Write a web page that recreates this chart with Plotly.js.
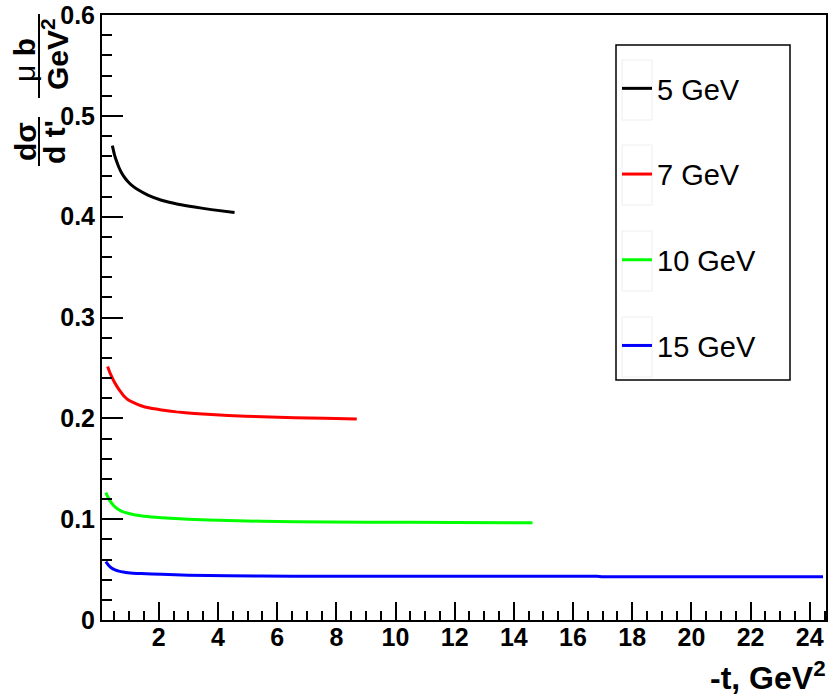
<!DOCTYPE html>
<html><head><meta charset="utf-8">
<script src="https://cdn.plot.ly/plotly-3.0.1.min.js"></script>
<style>html,body{margin:0;padding:0;background:#fff}#chart{width:832px;height:696px}</style>
</head><body><div id="chart"></div>
<script>
// Data
const seriesNames = ['5 GeV', '7 GeV', '10 GeV', '15 GeV'];

const x5  = [0.43, 0.5, 0.57, 0.65, 0.74, 0.85, 0.96, 1.1, 1.3, 1.63, 2.09, 2.65, 3.21, 3.78, 4.56];
const y5  = [0.4705, 0.4616, 0.4552, 0.4490, 0.4436, 0.4386, 0.4347, 0.4308, 0.4266, 0.4214, 0.4163, 0.4124, 0.4095, 0.4070, 0.4041];

const x7  = [0.27, 0.33, 0.4, 0.51, 0.6, 0.7, 0.82, 0.96, 1.15, 1.4, 1.7, 2.09, 2.6, 3.2, 4.34, 5.5, 6.59, 7.6, 8.69];
const y7  = [0.2513, 0.2465, 0.2418, 0.2352, 0.2310, 0.2268, 0.2222, 0.2185, 0.2155, 0.2125, 0.2102, 0.2083, 0.2064, 0.2048, 0.2027, 0.2015, 0.2007, 0.2000, 0.1994];

const x10 = [0.21, 0.28, 0.35, 0.43, 0.51, 0.6, 0.7, 0.82, 0.96, 1.2, 1.5, 2.09, 3.0, 4.34, 6.59, 9.0, 12.0, 14.63];
const y10 = [0.1263, 0.1218, 0.1182, 0.1150, 0.1124, 0.1103, 0.1085, 0.1070, 0.1058, 0.1042, 0.1030, 0.1015, 0.0999, 0.0986, 0.0974, 0.0970, 0.0967, 0.0965];

const x15 = [0.21, 0.3, 0.4, 0.52, 0.65, 0.8, 0.96, 1.4, 2.09, 3.0, 4.34, 6.5, 10.0, 14.0, 16.8, 17.0, 20.0, 24.45];
const y15 = [0.0579, 0.0543, 0.0515, 0.0497, 0.0485, 0.0476, 0.0469, 0.046, 0.0453, 0.0445, 0.0438, 0.0435, 0.0434, 0.0434, 0.0434, 0.0430, 0.0430, 0.0430];

// Styles
const colors = ['#000000', '#ff0000', '#00ff00', '#0000ff'];
const xs = [x5, x7, x10, x15];
const ys = [y5, y7, y10, y15];

const traces = xs.map((x, i) => ({
  type: 'scatter', mode: 'lines', x: x, y: ys[i], name: seriesNames[i],
  legendgroup: 'g' + i,
  line: {color: colors[i], width: 3, shape: 'spline', smoothing: 0.5}
}));

const tickFont = {family: '"Liberation Sans", Arial, sans-serif', size: 25, color: '#000', weight: 'bold'};
const boldFont = {family: '"Liberation Sans", Arial, sans-serif', color: '#000', weight: 'bold'};

// plot area in pixels: l=102, t=15, w=724, h=605
const px = v => (v - 102) / 724;
const py = v => (620 - v) / 605;

const shapes = [
  // legend box
  {type: 'rect', xref: 'paper', yref: 'paper', x0: px(616), x1: px(790), y0: py(380), y1: py(45), line: {color: '#000', width: 1.5}, fillcolor: 'rgba(0,0,0,0)', layer: 'above'},
  // y title fraction bars
  {type: 'line', xref: 'paper', yref: 'paper', x0: px(39), x1: px(39), y0: py(166), y1: py(117), line: {color: '#000', width: 2}},
  {type: 'line', xref: 'paper', yref: 'paper', x0: px(39), x1: px(39), y0: py(98), y1: py(14), line: {color: '#000', width: 2}}
];
// faint boxes around legend symbols
[90, 175, 261, 347].forEach(c => shapes.push({type: 'rect', xref: 'paper', yref: 'paper', x0: px(622), x1: px(652), y0: py(c + 30), y1: py(c - 30), line: {color: '#eeeeee', width: 1}, fillcolor: 'rgba(0,0,0,0)', layer: 'above'}));

const annotations = [
  {xref: 'paper', yref: 'paper', x: 1.003, y: py(676), xanchor: 'right', yanchor: 'middle', showarrow: false,
   text: '-t, GeV<sup>2</sup>', font: Object.assign({}, boldFont, {size: 32})},
  {xref: 'paper', yref: 'paper', x: px(25), y: py(142), xanchor: 'center', yanchor: 'middle', showarrow: false, textangle: -90,
   text: 'dσ', font: Object.assign({}, boldFont, {size: 30})},
  {xref: 'paper', yref: 'paper', x: px(54), y: py(142), xanchor: 'center', yanchor: 'middle', showarrow: false, textangle: -90,
   text: 'd t\'', font: Object.assign({}, boldFont, {size: 30})},
  {xref: 'paper', yref: 'paper', x: px(25), y: py(60), xanchor: 'center', yanchor: 'middle', showarrow: false, textangle: -90,
   text: '<span style="font-weight:normal">μ</span> b', font: Object.assign({}, boldFont, {size: 30})},
  {xref: 'paper', yref: 'paper', x: px(55), y: py(54), xanchor: 'center', yanchor: 'middle', showarrow: false, textangle: -90,
   text: 'GeV<sup>2</sup>', font: Object.assign({}, boldFont, {size: 30})}
];

const layout = {
  width: 832, height: 696,
  margin: {l: 102, r: 6, t: 15, b: 76, pad: 0},
  paper_bgcolor: '#fff', plot_bgcolor: '#fff',
  showlegend: true,
  legend: {x: px(617), y: py(63), xanchor: 'left', yanchor: 'top', bgcolor: 'rgba(0,0,0,0)', borderwidth: 0,
           traceorder: 'grouped', tracegroupgap: 45,
           font: {family: '"Liberation Sans", Arial, sans-serif', size: 29, color: '#000'}},
  xaxis: {range: [0.08, 24.55], tick0: 0, dtick: 2, ticks: 'inside', ticklen: 18, tickwidth: 2, tickcolor: '#000',
          showline: true, linewidth: 2, linecolor: '#000', mirror: true, showgrid: false, zeroline: false,
          tickfont: tickFont, ticklabelstandoff: -6,
          minor: {tick0: 0, dtick: 0.5, ticks: 'inside', ticklen: 9, tickwidth: 2, tickcolor: '#000', showgrid: false}},
  yaxis: {range: [0, 0.6], tick0: 0, dtick: 0.1, ticks: 'inside', ticklen: 21, tickwidth: 2, tickcolor: '#000',
          showline: true, linewidth: 2, linecolor: '#000', mirror: true, showgrid: false, zeroline: false,
          tickfont: tickFont, ticklabelstandoff: 0,
          minor: {tick0: 0, dtick: 0.02, ticks: 'inside', ticklen: 10, tickwidth: 2, tickcolor: '#000', showgrid: false}},
  shapes: shapes,
  annotations: annotations
};

Plotly.newPlot('chart', traces, layout, {displayModeBar: false, staticPlot: true});
</script></body></html>
